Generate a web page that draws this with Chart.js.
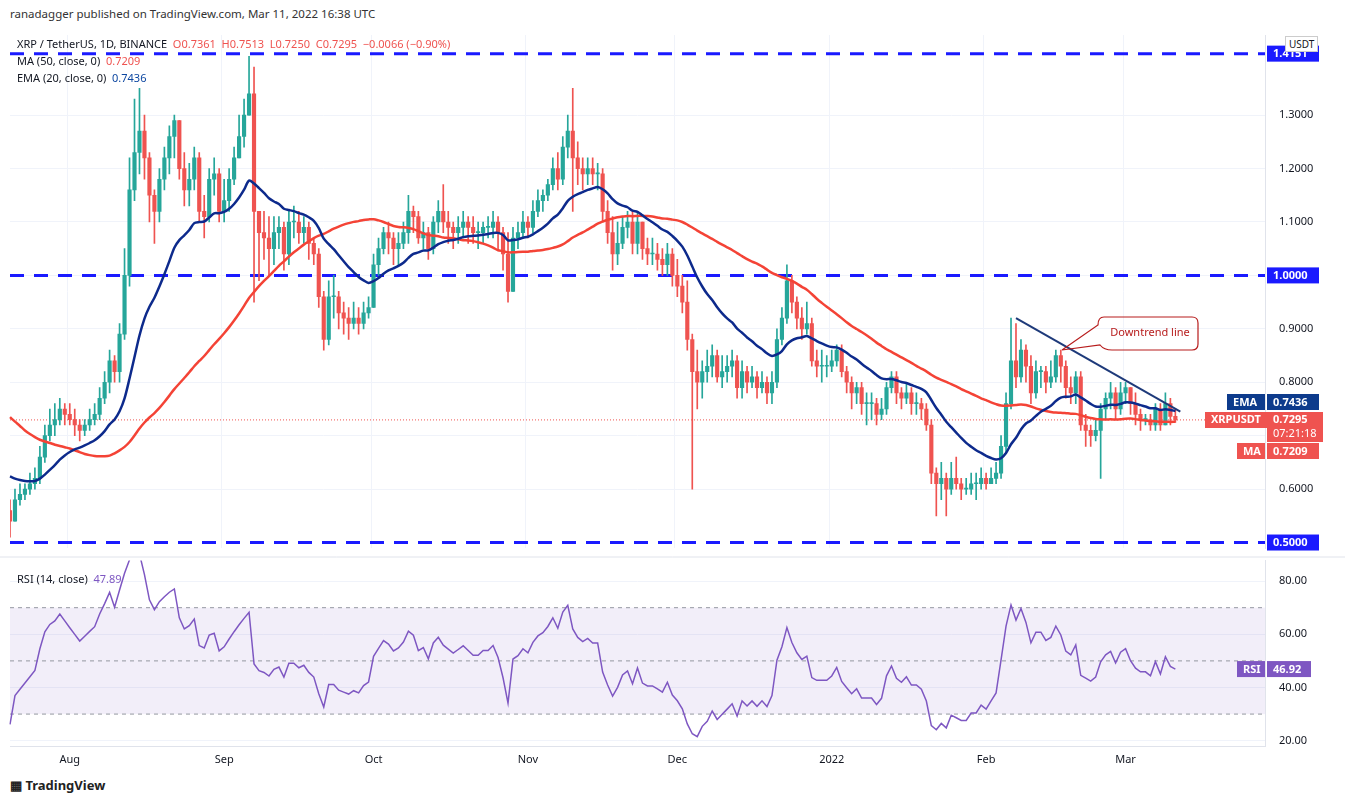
<!DOCTYPE html>
<html>
<head>
<meta charset="utf-8">
<script src="https://cdn.jsdelivr.net/npm/chart.js@4.4.1/dist/chart.umd.min.js"></script>
<style>
  body { margin:0; background:#fff; font-family:"Noto Sans", Roboto, sans-serif; }
  #wrap { position:relative; width:1345px; height:802px; }
  canvas { position:absolute; left:0; }
  .t { position:absolute; font-size:11px; color:#131722; white-space:nowrap; }
</style>
</head>
<body>
<div id="wrap">
  <div class="t" style="left:10px;top:6px;font-size:11.5px;color:#333">ranadagger published on TradingView.com, Mar 11, 2022 16:38 UTC</div>
  <canvas id="main" width="1345" height="569" style="top:0"></canvas>
  <canvas id="rsi" width="1345" height="232" style="top:540px"></canvas>
  <div class="t" style="left:17px;top:36px">XRP / TetherUS, 1D, BINANCE &nbsp;<span style="color:#ef5350">O0.7361 &nbsp;H0.7513 &nbsp;L0.7250 &nbsp;C0.7295 &nbsp;−0.0066 (−0.90%)</span></div>
  <div class="t" style="left:17px;top:53px">MA (50, close, 0) &nbsp;<span style="color:#ef5350">0.7209</span></div>
  <div class="t" style="left:17px;top:70px">EMA (20, close, 0) &nbsp;<span style="color:#0d47a1">0.7436</span></div>
  <div class="t" style="left:1285px;top:36px;border:1px solid #ccc;padding:0 3px;font-size:10px;background:#fff">USDT</div>
  <div class="t" style="left:17px;top:571px">RSI (14, close) &nbsp;<span style="color:#7e57c2">47.89</span></div>
  <div class="t" style="left:10px;top:776px;font-size:13px;font-weight:bold;color:#222">&#9638; TradingView</div>
</div>
<script>
// closes before the visible window (Jun 1 - Jul 19 2021), only used for MA/EMA/RSI
var priorCloses = [1.00,0.99,1.02,0.95,0.90,0.91,0.87,0.85,0.90,0.86,0.86,0.85,0.88,0.89,0.89,0.84,0.82,0.80,0.80,0.78,0.60,0.62,0.67,0.70,0.62,0.62,0.66,0.68,0.70,0.70,
  0.66,0.67,0.68,0.68,0.64,0.65,0.65,0.63,0.64,0.63,0.64,0.62,0.61,0.61,0.60,0.60,0.59,0.60,0.56];

// Jul 20 2021 .. Mar 11 2022
var closes = [
  0.54,0.58,0.59,0.60,0.61,0.62,0.66,0.70,0.72,0.73,0.75,0.74,
  0.73,0.72,0.71,0.72,0.73,0.74,0.77,0.80,0.84,0.82,0.89,1.00,1.16,1.23,1.27,1.22,1.15,1.12,1.18,1.22,1.26,1.29,1.20,1.16,1.18,1.22,1.12,1.11,1.18,1.19,1.12,
  1.14,1.18,1.22,1.26,1.30,1.34,1.12,1.08,1.07,1.05,1.08,1.09,1.04,1.10,1.10,1.08,1.09,1.06,1.04,0.96,0.88,0.96,0.96,0.93,0.92,0.91,0.92,0.91,0.93,0.94,
  1.02,1.05,1.08,1.07,1.05,1.06,1.08,1.12,1.11,1.07,1.08,1.05,1.10,1.12,1.10,1.09,1.08,1.09,1.10,1.09,1.08,1.08,1.09,1.09,1.10,1.08,1.04,0.97,1.07,1.08,1.10,
  1.09,1.12,1.14,1.15,1.17,1.20,1.18,1.24,1.27,1.22,1.20,1.19,1.20,1.19,1.19,1.12,1.08,1.04,1.06,1.09,1.10,1.06,1.10,1.05,1.04,1.04,1.03,1.02,1.04,1.00,
  0.98,0.95,0.88,0.82,0.80,0.82,0.83,0.85,0.81,0.82,0.83,0.84,0.79,0.82,0.80,0.81,0.79,0.80,0.78,0.80,0.88,0.92,0.99,0.95,0.92,0.90,0.91,0.84,0.83,0.83,0.83,
  0.84,0.86,0.82,0.80,0.78,0.79,0.76,0.76,0.76,0.74,0.75,0.79,0.81,0.78,0.77,0.78,0.76,0.76,0.75,0.72,0.63,0.61,0.62,0.60,0.62,0.61,0.60,0.60,0.61,0.61,0.62,
  0.61,0.62,0.63,0.68,0.76,0.84,0.81,0.86,0.83,0.78,0.82,0.82,0.80,0.81,0.85,0.83,0.79,0.78,0.81,0.72,0.71,0.70,0.71,0.75,0.77,0.78,0.75,0.78,
  0.79,0.76,0.74,0.73,0.73,0.72,0.75,0.72,0.76,0.7361,0.7295];
var highs = [
  0.58,0.60,0.61,0.61,0.63,0.64,0.68,0.72,0.75,0.76,0.77,0.76,
  0.76,0.75,0.73,0.73,0.75,0.76,0.79,0.82,0.86,0.85,0.91,1.05,1.22,1.33,1.35,1.30,1.23,1.16,1.20,1.24,1.28,1.30,1.29,1.23,1.21,1.24,1.23,1.15,1.20,1.22,1.20,
  1.18,1.20,1.24,1.30,1.33,1.41,1.39,1.12,1.12,1.11,1.11,1.11,1.10,1.12,1.13,1.12,1.11,1.10,1.07,1.05,0.97,0.99,1.00,0.97,0.95,0.94,0.95,0.94,0.95,0.96,
  1.04,1.07,1.09,1.10,1.08,1.08,1.10,1.15,1.13,1.12,1.10,1.09,1.11,1.14,1.17,1.12,1.10,1.11,1.12,1.11,1.11,1.10,1.10,1.11,1.12,1.11,1.09,1.08,1.09,1.10,1.12,
  1.11,1.14,1.16,1.16,1.18,1.22,1.23,1.26,1.30,1.35,1.25,1.22,1.22,1.22,1.21,1.20,1.14,1.11,1.10,1.11,1.12,1.12,1.12,1.10,1.07,1.07,1.06,1.05,1.06,1.05,
  1.03,1.00,0.99,0.89,0.86,0.84,0.86,0.87,0.86,0.85,0.85,0.86,0.85,0.84,0.83,0.83,0.82,0.82,0.81,0.82,0.90,0.94,1.02,1.00,0.96,0.94,0.95,0.92,0.86,0.86,0.85,
  0.86,0.87,0.87,0.83,0.81,0.80,0.80,0.78,0.78,0.77,0.77,0.80,0.82,0.82,0.79,0.80,0.79,0.78,0.77,0.76,0.73,0.64,0.65,0.63,0.65,0.66,0.62,0.62,0.63,0.63,0.64,
  0.63,0.64,0.65,0.70,0.78,0.92,0.91,0.88,0.87,0.85,0.84,0.83,0.83,0.84,0.86,0.86,0.84,0.81,0.82,0.82,0.74,0.72,0.73,0.76,0.78,0.80,0.79,0.80,
  0.80,0.79,0.78,0.75,0.74,0.74,0.76,0.76,0.78,0.77,0.7513];
var lows = [
  0.51,0.54,0.57,0.58,0.59,0.60,0.61,0.65,0.69,0.70,0.72,0.72,
  0.72,0.70,0.69,0.70,0.71,0.72,0.73,0.76,0.78,0.80,0.80,0.88,0.98,1.14,1.19,1.18,1.10,1.06,1.10,1.16,1.19,1.22,1.18,1.13,1.13,1.16,1.10,1.07,1.10,1.15,1.10,
  1.10,1.12,1.17,1.22,1.24,1.30,0.95,0.99,1.03,1.00,1.02,1.05,1.01,1.02,1.07,1.06,1.06,1.03,1.02,0.94,0.86,0.87,0.92,0.90,0.89,0.88,0.90,0.89,0.90,0.92,
  0.94,1.00,1.04,1.04,1.02,1.02,1.05,1.06,1.08,1.06,1.05,1.03,1.04,1.08,1.08,1.06,1.05,1.06,1.07,1.06,1.06,1.05,1.06,1.07,1.07,1.05,1.01,0.95,0.97,1.05,1.07,
  1.07,1.08,1.11,1.12,1.14,1.16,1.16,1.17,1.22,1.12,1.17,1.16,1.17,1.17,1.16,1.10,1.06,1.01,1.02,1.05,1.07,1.04,1.04,1.03,1.02,1.02,1.01,1.00,1.00,0.98,
  0.96,0.93,0.86,0.60,0.75,0.77,0.80,0.81,0.80,0.79,0.80,0.81,0.77,0.77,0.78,0.79,0.77,0.78,0.76,0.76,0.79,0.87,0.91,0.93,0.90,0.88,0.89,0.83,0.81,0.80,0.81,
  0.82,0.83,0.81,0.78,0.75,0.76,0.74,0.72,0.73,0.72,0.73,0.74,0.78,0.76,0.75,0.76,0.74,0.74,0.73,0.71,0.61,0.55,0.58,0.55,0.59,0.60,0.58,0.59,0.59,0.58,0.60,
  0.60,0.61,0.61,0.62,0.67,0.75,0.79,0.80,0.80,0.76,0.77,0.79,0.78,0.79,0.80,0.80,0.77,0.76,0.76,0.71,0.68,0.68,0.69,0.62,0.73,0.75,0.73,0.74,
  0.76,0.74,0.72,0.71,0.72,0.71,0.71,0.71,0.72,0.72,0.7250];
var firstOpen = 0.56;
var levels = [1.4151, 1.0, 0.5];
var trendFrom = { day: 202, price: 0.92 };   // Feb 7
var trendTo = { day: 235, price: 0.745 };
var priceTicks = [0.6, 0.7, 0.8, 0.9, 1.0, 1.1, 1.2, 1.3];
var rsiTicks = [20, 40, 60, 80];
var blankDays = 18;

var UP = '#26a69a', DN = '#ef5350';
var n = closes.length, total = n + blankDays;
var labels = [];
var d0 = new Date(Date.UTC(2021, 6, 20));
for (var i = 0; i < total; i++) labels.push(new Date(d0.getTime() + i * 86400000));
var mNames = ['Jan','Feb','Mar','Apr','May','Jun','Jul','Aug','Sep','Oct','Nov','Dec'];
function monthLabel(i) {
  var d = labels[i];
  if (d.getUTCDate() !== 1) return null;
  return d.getUTCMonth() === 0 ? String(d.getUTCFullYear()) : mNames[d.getUTCMonth()];
}

var opens = closes.map(function (c, i) { return i === 0 ? firstOpen : closes[i - 1]; });
var all = priorCloses.concat(closes);
var off = priorCloses.length;
var ma = [], ema = [], rsi = [];
var e = all[0];
for (var i = 0; i < all.length; i++) {
  e = i === 0 ? all[0] : (all[i] - e) * 2 / 21 + e;
  if (i >= off) {
    var s = 0, k = 0;
    for (var j = Math.max(0, i - 49); j <= i; j++) { s += all[j]; k++; }
    ma.push(s / k); ema.push(e);
  }
}
var ag = 0, al = 0;
for (var i = 1; i < all.length; i++) {
  var ch = all[i] - all[i - 1];
  var g = Math.max(ch, 0), l = Math.max(-ch, 0);
  if (i <= 14) { ag += g / 14; al += l / 14; }
  else { ag = (ag * 13 + g) / 14; al = (al * 13 + l) / 14; }
  if (i >= off) rsi.push(100 - 100 / (1 + ag / al));
}
var colors = closes.map(function (c, i) { return c >= opens[i] ? UP : DN; });
var trend = labels.map(function (_, i) {
  if (i === trendFrom.day) return trendFrom.price;
  if (i === trendTo.day) return trendTo.price;
  return null;
});

function fitY(s) { s.width = 80; }
function gridColor(ctx) { return ctx.tick && monthLabel(ctx.index) ? '#f0f3fa' : 'rgba(0,0,0,0)'; }

function tag(ctx, y, text, bg, w, x) {
  ctx.fillStyle = bg;
  ctx.fillRect(x, y - 8, w, 16);
  ctx.fillStyle = '#fff';
  ctx.font = 'bold 11px "Noto Sans"';
  ctx.textAlign = 'left'; ctx.textBaseline = 'middle';
  ctx.fillText(text, x + 6, y + 0.5);
}

var mainOverlay = {
  id: 'mainOverlay',
  beforeDatasetsDraw: function (chart) {
    var c = chart.ctx, a = chart.chartArea, y = chart.scales.y;
    c.save();
    c.strokeStyle = '#1a1aff'; c.lineWidth = 3; c.setLineDash([14, 10]);
    levels.forEach(function (v) {
      var py = y.getPixelForValue(v);
      c.beginPath(); c.moveTo(a.left, py); c.lineTo(a.right, py); c.stroke();
    });
    c.strokeStyle = DN; c.lineWidth = 1; c.setLineDash([1, 2]);
    var py = y.getPixelForValue(closes[n - 1]);
    c.beginPath(); c.moveTo(a.left, py); c.lineTo(a.right, py); c.stroke();
    c.restore();
  },
  afterDraw: function (chart) {
    var c = chart.ctx, y = chart.scales.y, x0 = chart.chartArea.right + 2;
    c.save();
    levels.forEach(function (v) { tag(c, y.getPixelForValue(v), v.toFixed(4), '#1a1aff', 52, x0); });
    tag(c, 402, 'EMA', '#0d3b8c', 38, x0 - 40);
    tag(c, 402, '0.7436', '#0d3b8c', 52, x0);
    c.fillStyle = DN; c.fillRect(x0 - 62, 412, 62, 16); c.fillRect(x0, 412, 56, 30);
    c.fillStyle = '#fff'; c.font = 'bold 11px "Noto Sans"'; c.textBaseline = 'middle';
    c.fillText('XRPUSDT', x0 - 56, 420); c.fillText('0.7295', x0 + 6, 420);
    c.font = '11px "Noto Sans"'; c.fillText('07:21:18', x0 + 6, 434);
    tag(c, 451, 'MA', DN, 28, x0 - 30);
    tag(c, 451, '0.7209', DN, 52, x0);
    // callout
    c.strokeStyle = '#b71c1c'; c.lineWidth = 1.2;
    c.beginPath();
    c.moveTo(1104, 317); c.lineTo(1192, 317); c.quadraticCurveTo(1198, 317, 1198, 323);
    c.lineTo(1198, 344); c.quadraticCurveTo(1198, 350, 1192, 350);
    c.lineTo(1112, 350); c.quadraticCurveTo(1104, 350, 1100, 345);
    c.lineTo(1062, 350);
    c.moveTo(1104, 317); c.quadraticCurveTo(1098, 317, 1098, 325); c.lineTo(1062, 350);
    c.stroke();
    c.fillStyle = '#b71c1c'; c.font = '11px "Noto Sans"'; c.textAlign = 'center';
    c.fillText('Downtrend line', 1150, 333);
    c.restore();
  }
};

new Chart(document.getElementById('main'), {
  data: {
    labels: labels,
    datasets: [
      { type: 'line', data: ma, borderColor: '#f44336', borderWidth: 2.5, pointRadius: 0, tension: 0.3, order: 2 },
      { type: 'line', data: ema, borderColor: '#0d2a8c', borderWidth: 2.5, pointRadius: 0, tension: 0.3, order: 1 },
      { type: 'line', data: trend, borderColor: '#1e3a7a', borderWidth: 2, pointRadius: 0, spanGaps: true, order: 0 },
      { type: 'bar', data: lows.map(function (l, i) { return [l, highs[i]]; }), backgroundColor: colors, barThickness: 1, grouped: false, order: 4 },
      { type: 'bar', data: opens.map(function (o, i) { return [o, closes[i]]; }), backgroundColor: colors, barThickness: 3.5, minBarLength: 1, grouped: false, order: 3 }
    ]
  },
  options: {
    responsive: false, animation: false,
    layout: { padding: { left: 10, top: 35, bottom: 0 } },
    plugins: { legend: { display: false }, tooltip: { enabled: false } },
    scales: {
      x: { offset: false, ticks: { display: false, autoSkip: false }, grid: { color: gridColor, drawTicks: false }, border: { display: false } },
      y: { position: 'right', min: 0.489, max: 1.45, afterFit: fitY,
        afterBuildTicks: function (s) { s.ticks = priceTicks.map(function (v) { return { value: v }; }); },
        ticks: { color: '#131722', font: { size: 11, family: 'Noto Sans' }, padding: 14, callback: function (v) { return v.toFixed(4); } },
        grid: { color: '#f0f3fa', drawTicks: false }, border: { color: '#e0e3eb' } }
    }
  },
  plugins: [mainOverlay]
});

var rsiOverlay = {
  id: 'rsiOverlay',
  beforeDatasetsDraw: function (chart) {
    var c = chart.ctx, a = chart.chartArea, y = chart.scales.y;
    c.save();
    c.fillStyle = 'rgba(126,87,194,0.1)';
    c.fillRect(a.left, y.getPixelForValue(70), a.right - a.left, y.getPixelForValue(30) - y.getPixelForValue(70));
    c.strokeStyle = '#9598a1'; c.lineWidth = 1; c.setLineDash([4, 4]);
    [70, 50, 30].forEach(function (v) {
      var py = y.getPixelForValue(v);
      c.beginPath(); c.moveTo(a.left, py); c.lineTo(a.right, py); c.stroke();
    });
    c.restore();
  },
  afterDraw: function (chart) {
    var c = chart.ctx, y = chart.scales.y, x0 = chart.chartArea.right + 2;
    var py = y.getPixelForValue(rsi[n - 1]);
    c.save();
    tag(c, py, 'RSI', '#7e57c2', 28, x0 - 30);
    tag(c, py, rsi[n - 1].toFixed(2), '#7e57c2', 44, x0);
    c.strokeStyle = '#e0e3eb'; c.beginPath(); c.moveTo(0, 17); c.lineTo(1345, 17); c.stroke();
    c.restore();
  }
};

new Chart(document.getElementById('rsi'), {
  type: 'line',
  data: { labels: labels, datasets: [{ data: rsi, borderColor: '#7e57c2', borderWidth: 1.5, pointRadius: 0 }] },
  options: {
    responsive: false, animation: false,
    layout: { padding: { left: 10, top: 5 } },
    plugins: { legend: { display: false }, tooltip: { enabled: false } },
    scales: {
      x: { offset: false, grid: { color: gridColor, drawTicks: false }, border: { color: '#e0e3eb' },
        ticks: { autoSkip: false, maxRotation: 0, color: '#131722', font: { size: 11, family: 'Noto Sans' }, padding: 6,
          callback: function (v, i) { return monthLabel(i); } } },
      y: { position: 'right', min: 17.7, max: 87.7, afterFit: fitY,
        afterBuildTicks: function (s) { s.ticks = rsiTicks.map(function (v) { return { value: v }; }); },
        ticks: { color: '#131722', font: { size: 11, family: 'Noto Sans' }, padding: 14, callback: function (v) { return v.toFixed(2); } },
        grid: { color: '#f0f3fa', drawTicks: false }, border: { color: '#e0e3eb' } }
    }
  },
  plugins: [rsiOverlay]
});
</script>
</body>
</html>
